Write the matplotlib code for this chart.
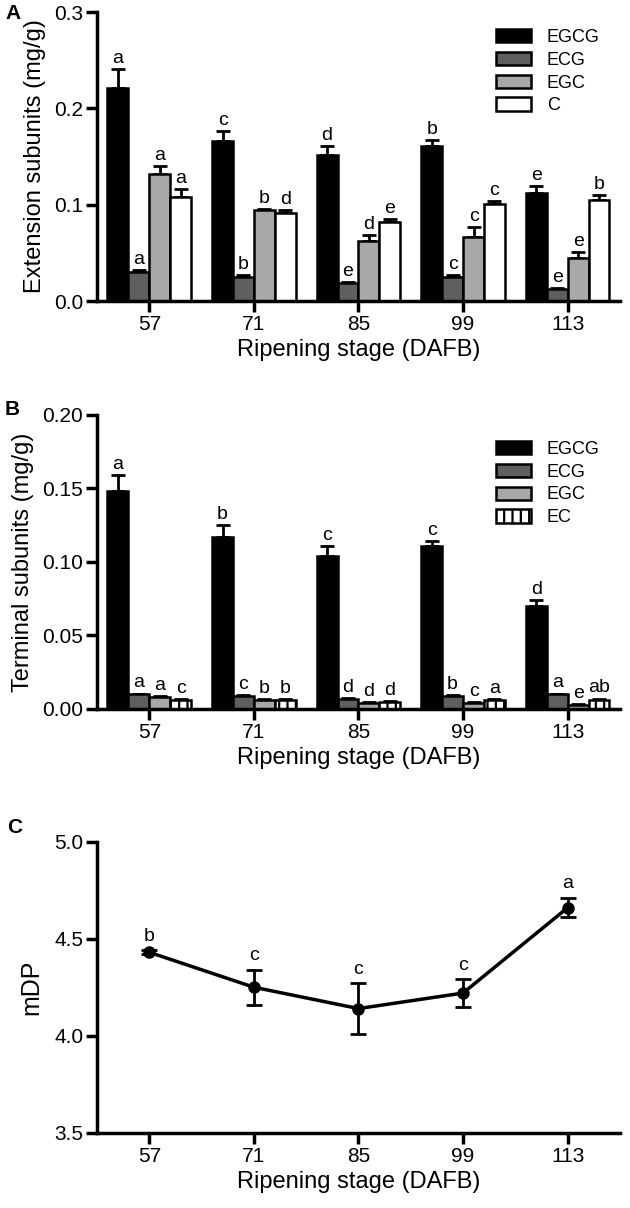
import numpy as np
import matplotlib
matplotlib.use("Agg")
import matplotlib.pyplot as plt

plt.rcParams['font.family'] = ['Liberation Sans', 'DejaVu Sans']
plt.rcParams['hatch.linewidth'] = 1.6

stages = ["57", "71", "85", "99", "113"]

# panel A - extension subunits (mg/g)
ext_names = ["EGCG", "ECG", "EGC", "C"]
ext_vals = [[0.221, 0.166, 0.152, 0.161, 0.112],
            [0.030, 0.025, 0.019, 0.025, 0.013],
            [0.132, 0.094, 0.062, 0.067, 0.045],
            [0.108, 0.091, 0.082, 0.101, 0.105]]
ext_err = [[0.020, 0.011, 0.009, 0.006, 0.007],
           [0.002, 0.002, 0.001, 0.002, 0.001],
           [0.008, 0.002, 0.007, 0.010, 0.006],
           [0.008, 0.004, 0.003, 0.003, 0.005]]
ext_letters = [["a", "c", "d", "b", "e"],
               ["a", "b", "e", "c", "e"],
               ["a", "b", "d", "c", "e"],
               ["a", "d", "e", "c", "b"]]

# panel B - terminal subunits (mg/g)
term_names = ["EGCG", "ECG", "EGC", "EC"]
term_vals = [[0.148, 0.117, 0.104, 0.111, 0.070],
             [0.010, 0.009, 0.007, 0.009, 0.010],
             [0.008, 0.006, 0.004, 0.004, 0.003],
             [0.006, 0.006, 0.005, 0.006, 0.006]]
term_err = [[0.011, 0.008, 0.007, 0.003, 0.004],
            [0.0005, 0.0005, 0.0005, 0.0005, 0.0005],
            [0.0005, 0.0005, 0.0005, 0.0005, 0.0005],
            [0.0005, 0.0005, 0.0005, 0.0005, 0.001]]
term_letters = [["a", "b", "c", "c", "d"],
                ["a", "c", "d", "b", "a"],
                ["a", "b", "d", "c", "e"],
                ["c", "b", "d", "a", "ab"]]

# panel C - mDP
mdp = [4.43, 4.25, 4.14, 4.22, 4.66]
mdp_err = [0.01, 0.09, 0.13, 0.07, 0.05]
mdp_letters = ["b", "c", "c", "c", "a"]

colors = ["black", "#5f5f5f", "#a8a8a8", "white"]
hatches = [None, None, None, None]

fig = plt.figure(figsize=(6.3, 12.08), dpi=100)


def style_axes(ax):
    for s in ["top", "right"]:
        ax.spines[s].set_visible(False)
    for s in ["left", "bottom"]:
        ax.spines[s].set_linewidth(2.5)
    ax.tick_params(width=2.5, length=8, labelsize=15, pad=2)
    ax.set_xlim(-0.5, 4.5)
    ax.set_xticks(range(5))
    ax.set_xticklabels(stages)
    ax.set_xlabel("Ripening stage (DAFB)", fontsize=17, labelpad=4)


def bar_panel(ax, names, vals, errs, letters, hatch_list, ymax, yticks, fmt, offset):
    w = 0.2
    x = np.arange(5)
    handles = []
    for i, name in enumerate(names):
        pos = x + (i - 1.5) * w
        b = ax.bar(pos, vals[i], w, color=colors[i], edgecolor="black",
                   linewidth=1.8, hatch=hatch_list[i], label=name, zorder=2)
        handles.append(b)
        ax.errorbar(pos, vals[i], yerr=[np.zeros(5), errs[i]], fmt="none",
                    ecolor="black", elinewidth=2, capsize=5, capthick=2, zorder=1)
        for j in range(5):
            ax.text(pos[j], vals[i][j] + errs[i][j] + offset, letters[i][j],
                    ha="center", va="bottom", fontsize=14)
    ax.set_ylim(0, ymax)
    ax.set_yticks(yticks)
    ax.set_yticklabels([fmt.format(t) for t in yticks])
    style_axes(ax)
    return handles


# A
axA = fig.add_axes([0.154, 0.7508, 0.830, 0.2392])
hA = bar_panel(axA, ext_names, ext_vals, ext_err, ext_letters, hatches,
               0.3, [0.0, 0.1, 0.2, 0.3], "{:.1f}", 0.002)
axA.set_ylabel("Extension subunits (mg/g)", fontsize=17, labelpad=6)
axA.legend(handles=hA, loc="upper left", bbox_to_anchor=(0.788, 0.976),
           bbox_transform=fig.transFigure, frameon=False, fontsize=13,
           handlelength=1.9, handleheight=0.75, handletextpad=0.9,
           labelspacing=0.32, borderaxespad=0, borderpad=0)
fig.text(0.008, 0.9885, "A", fontsize=15, fontweight="bold", va="center")

# B
axB = fig.add_axes([0.154, 0.4131, 0.830, 0.2434])
hB = bar_panel(axB, term_names, term_vals, term_err, term_letters,
               [None, None, None, "||"], 0.2, [0.0, 0.05, 0.10, 0.15, 0.20],
               "{:.2f}", 0.0015)
axB.set_ylabel("Terminal subunits (mg/g)", fontsize=17, labelpad=6)
axB.legend(handles=hB, loc="upper left", bbox_to_anchor=(0.788, 0.635),
           bbox_transform=fig.transFigure, frameon=False, fontsize=13,
           handlelength=1.9, handleheight=0.75, handletextpad=0.9,
           labelspacing=0.32, borderaxespad=0, borderpad=0)
fig.text(0.008, 0.661, "B", fontsize=15, fontweight="bold", va="center")

# C
axC = fig.add_axes([0.154, 0.0623, 0.830, 0.2409])
axC.errorbar(range(5), mdp, yerr=mdp_err, color="black", linewidth=2.5,
             marker="o", markersize=8, elinewidth=2, capsize=6, capthick=2)
for j in range(5):
    axC.text(j, mdp[j] + mdp_err[j] + 0.03, mdp_letters[j],
             ha="center", va="bottom", fontsize=14)
axC.set_ylim(3.5, 5.0)
axC.set_yticks([3.5, 4.0, 4.5, 5.0])
axC.set_yticklabels(["3.5", "4.0", "4.5", "5.0"])
style_axes(axC)
axC.set_ylabel("mDP", fontsize=18, labelpad=8)
fig.text(0.012, 0.315, "C", fontsize=15, fontweight="bold", va="center")

fig.savefig("out.png", dpi=100)
